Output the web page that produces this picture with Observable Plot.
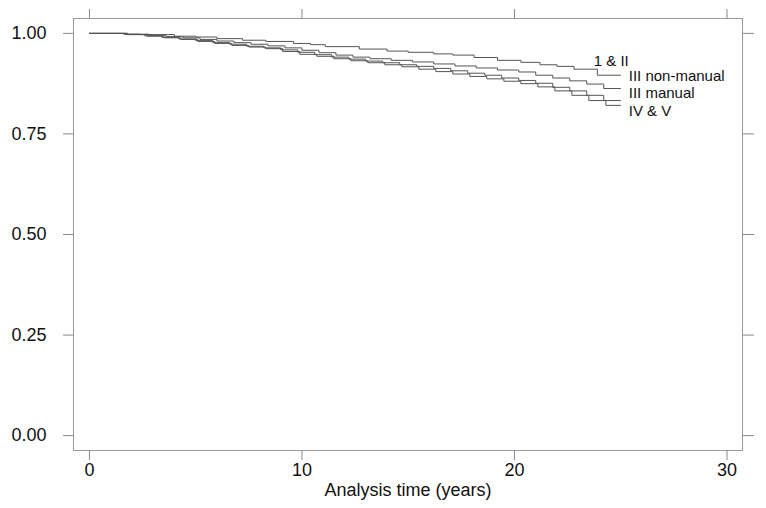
<!DOCTYPE html>
<html>
<head>
<meta charset="utf-8">
<script src="https://cdn.jsdelivr.net/npm/d3@7"></script>
<script src="https://cdn.jsdelivr.net/npm/@observablehq/plot@0.6"></script>
<style>
  html, body { margin: 0; padding: 0; background: #fff; }
  #chart svg { display: block; }
</style>
</head>
<body>
<div id="chart"></div>
<script>
// Groups (social class)
const groups = ["1 & II", "III non-manual", "III manual", "IV & V"];

// Kaplan-Meier step times (years) and survival estimates
const timesI_II = [0, 1.6, 2.4, 4.0, 5.0, 6.0, 7.2, 8.3, 9.6, 10.4, 11.1, 12.7, 14.0, 15.0, 16.2, 17.1, 18.1, 19.2, 20.3, 21.2, 22.0, 22.8, 23.9, 25.0];
const survI_II  = [1.000, 0.998, 0.997, 0.993, 0.991, 0.987, 0.983, 0.980, 0.975, 0.972, 0.967, 0.961, 0.956, 0.953, 0.949, 0.946, 0.940, 0.933, 0.928, 0.922, 0.918, 0.911, 0.896, 0.896];

const timesIIINM = [0, 1.8, 2.8, 3.6, 4.4, 5.2, 6.0, 6.8, 7.6, 8.4, 9.2, 10.0, 10.8, 11.6, 12.4, 13.2, 14.2, 15.2, 16.2, 17.2, 18.2, 19.2, 20.2, 21.0, 21.8, 22.6, 23.4, 24.2, 25.0];
const survIIINM  = [1.000, 0.998, 0.995, 0.992, 0.989, 0.985, 0.981, 0.977, 0.973, 0.969, 0.964, 0.958, 0.952, 0.946, 0.941, 0.937, 0.933, 0.929, 0.924, 0.919, 0.914, 0.909, 0.904, 0.896, 0.889, 0.882, 0.874, 0.863, 0.863];

const timesIIIM = [0, 1.7, 2.6, 3.4, 4.2, 5.0, 5.8, 6.6, 7.4, 8.2, 9.0, 9.8, 10.6, 11.4, 12.2, 13.0, 13.8, 14.6, 15.4, 16.2, 17.0, 17.8, 18.6, 19.4, 20.2, 21.0, 21.8, 22.6, 23.4, 24.2, 25.0];
const survIIIM  = [1.000, 0.997, 0.994, 0.990, 0.986, 0.982, 0.977, 0.973, 0.968, 0.964, 0.959, 0.953, 0.947, 0.941, 0.936, 0.931, 0.927, 0.922, 0.918, 0.913, 0.907, 0.901, 0.896, 0.889, 0.883, 0.876, 0.866, 0.857, 0.846, 0.833, 0.833];

const timesIVV = [0, 1.8, 2.7, 3.5, 4.3, 5.1, 5.9, 6.7, 7.5, 8.3, 9.1, 9.9, 10.7, 11.5, 12.3, 13.1, 13.9, 14.7, 15.5, 16.3, 17.1, 17.9, 18.7, 19.5, 20.3, 21.1, 21.9, 22.7, 23.5, 24.3, 25.0];
const survIVV  = [1.000, 0.997, 0.993, 0.989, 0.985, 0.980, 0.975, 0.970, 0.966, 0.962, 0.955, 0.948, 0.943, 0.937, 0.932, 0.927, 0.922, 0.917, 0.911, 0.905, 0.899, 0.893, 0.887, 0.881, 0.875, 0.867, 0.857, 0.846, 0.833, 0.821, 0.821];

// Axis ticks
const xTicks = [0, 10, 20, 30];
const yTicks = [0, 0.25, 0.5, 0.75, 1];
const xLabel = "Analysis time (years)";

// Build tidy table
const seriesTimes = [timesI_II, timesIIINM, timesIIIM, timesIVV];
const seriesSurv = [survI_II, survIIINM, survIIIM, survIVV];
const rows = [];
groups.forEach((g, i) => {
  seriesTimes[i].forEach((t, j) => rows.push({group: g, t, s: seriesSurv[i][j]}));
});
const ends = groups.map((g, i) => ({
  group: g,
  t: seriesTimes[i][seriesTimes[i].length - 1],
  s: seriesSurv[i][seriesSurv[i].length - 1]
}));

// label placement offsets (pixels) relative to curve end
const labelOffsets = {
  "1 & II": {dx: -27, dy: -14},
  "III non-manual": {dx: 8, dy: -12},
  "III manual": {dx: 8, dy: -7},
  "IV & V": {dx: 8, dy: 6}
};

const font = "'Liberation Sans', Arial, Helvetica, sans-serif";

const chart = Plot.plot({
  width: 766,
  height: 508,
  marginLeft: 73,
  marginRight: 24,
  marginTop: 18,
  marginBottom: 58,
  style: {fontFamily: font, fontSize: "18px", color: "#111", background: "#fff"},
  x: {domain: [-0.75, 30.73]},
  y: {domain: [-0.037, 1.037]},
  marks: [
    Plot.frame({stroke: "#999"}),
    Plot.axisY({anchor: "left", ticks: yTicks, tickFormat: ".2f", tickSize: 10, tickPadding: 17, stroke: "#888", fontSize: 18, label: null}),
    Plot.axisY({anchor: "right", ticks: yTicks, tickFormat: () => "", tickSize: 11, stroke: "#888", label: null}),
    Plot.axisX({anchor: "bottom", ticks: xTicks, tickSize: 10, tickPadding: 3, stroke: "#888", fontSize: 18,
      label: xLabel, labelAnchor: "center", labelArrow: "none", labelOffset: 45}),
    Plot.axisX({anchor: "top", ticks: xTicks, tickFormat: () => "", tickSize: 10, stroke: "#888", label: null}),
    Plot.line(rows, {x: "t", y: "s", z: "group", curve: "step-after", stroke: "#555", strokeWidth: 1}),
    ...ends.map(e => Plot.text([e], {
      x: "t", y: "s", text: "group", textAnchor: "start",
      dx: labelOffsets[e.group].dx, dy: labelOffsets[e.group].dy,
      fontSize: 15, fill: "#111"
    }))
  ]
});
document.getElementById("chart").appendChild(chart);
</script>
</body>
</html>
